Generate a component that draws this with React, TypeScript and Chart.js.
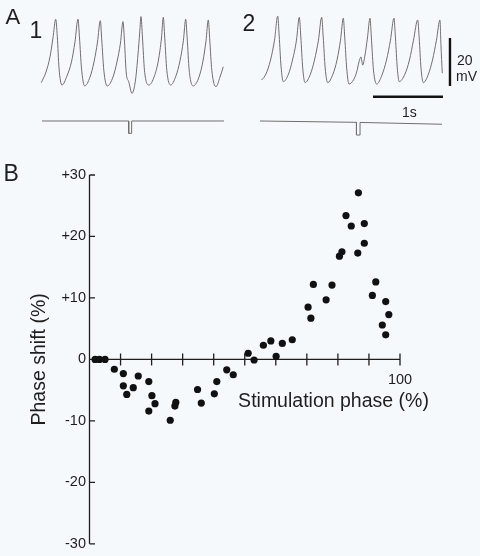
import React, { useEffect, useRef } from 'react';
import { Chart, registerables } from 'chart.js';

Chart.register(...registerables);

const FONT = '"Liberation Sans", Arial, Helvetica, sans-serif';
const INK = '#1e1e1e';
const TRACE = '#6e6e6e';
const BG = '#f6f9fb';

// ---------- Panel A : membrane potential recordings (time in ms, voltage in mV) ----------
const trace1T = [0, 67, 124, 167, 206, 229, 253, 296, 367, 431, 481, 524, 546, 574, 620, 696, 753, 803, 843, 864, 893, 943, 1024, 1081, 1131, 1167, 1189, 1214, 1249, 1296, 1346, 1381, 1407, 1424, 1446, 1474, 1539, 1617, 1674, 1717, 1743, 1764, 1793, 1849, 1924, 1981, 2031, 2063, 2084, 2113, 2171, 2253, 2310, 2353, 2386, 2407, 2436, 2496, 2553, 2600];
const trace1V = [-59.0, -54.6, -48.3, -40.4, -32.6, -39.9, -52.9, -60.0, -56.2, -50.4, -42.1, -32.6, -40.4, -52.9, -60.4, -56.7, -50.4, -42.1, -33.2, -41.2, -53.8, -60.4, -56.7, -50.4, -42.5, -33.6, -42.1, -55.0, -58.6, -63.5, -57.9, -47.5, -37.9, -31.5, -40.4, -53.8, -60.0, -56.2, -49.6, -40.4, -31.8, -40.4, -53.8, -60.0, -56.2, -50.0, -41.3, -32.6, -40.4, -53.8, -60.4, -56.7, -50.0, -41.7, -32.9, -41.3, -53.8, -60.7, -56.7, -52.4];
const stim1T = [10, 1249, 1249, 1291, 1291, 2610];
const stim1I = [0, 0, -1.03, -1.03, 0, 0];

const trace2T = [0, 61, 126, 183, 229, 250, 276, 309, 383, 440, 497, 537, 559, 586, 619, 697, 754, 811, 857, 879, 907, 943, 1019, 1076, 1126, 1166, 1187, 1214, 1247, 1311, 1357, 1390, 1419, 1443, 1476, 1511, 1547, 1569, 1597, 1643, 1719, 1783, 1840, 1890, 1911, 1937, 1966, 2047, 2111, 2169, 2229, 2250, 2276, 2309, 2383, 2440, 2497, 2547, 2561, 2580];
const trace2V = [-57.9, -55.4, -49.6, -41.3, -31.3, -39.6, -52.1, -58.6, -55.4, -49.6, -41.3, -31.8, -40.0, -52.9, -59.0, -55.4, -49.6, -41.3, -31.8, -40.0, -52.9, -59.0, -55.4, -49.6, -41.3, -32.2, -40.4, -52.9, -59.6, -57.9, -54.6, -50.4, -48.3, -51.7, -47.5, -40.4, -32.2, -41.3, -53.8, -59.6, -55.8, -49.6, -41.3, -32.2, -40.4, -52.9, -58.6, -55.4, -49.6, -41.3, -32.9, -40.4, -52.9, -59.0, -55.4, -49.6, -41.3, -32.9, -43.3, -55.1];
const stim2T = [-24, 1354, 1354, 1405, 1405, 2576];
const stim2I = [0, -0.11, -1.17, -1.17, -0.12, -0.27];

// scale bars (20 mV, 1 s)
const barVT = [2690, 2690];
const barVV = [-60.4, -40.4];
const barHT = [1590, 2590];
const barHV = [-64.9, -64.9];

// ---------- Panel B : phase response curve ----------
const phaseX = [1.8, 3.2, 5.0, 8.0, 10.9, 10.9, 12.0, 14.1, 15.7, 19.1, 19.1, 20.1, 21.1, 26.0, 27.5, 27.8, 34.8, 36.0, 40.2, 41.0, 44.2, 46.3, 51.1, 53.0, 56.0, 58.4, 60.1, 62.1, 65.3, 70.4, 71.3, 72.1, 76.2, 78.1, 80.5, 81.3, 82.6, 84.3, 86.4, 86.6, 88.5, 88.5, 91.1, 92.2, 94.3, 95.4, 95.4, 96.4];
const shiftY = [0, 0, 0, -1.6, -2.3, -4.3, -5.7, -4.6, -2.7, -3.6, -8.4, -5.9, -7.2, -9.9, -7.6, -7.0, -4.9, -7.1, -5.6, -3.6, -1.7, -2.5, 1.0, -0.1, 2.3, 3.0, 0.5, 2.6, 3.2, 8.5, 6.7, 12.2, 9.7, 12.1, 16.8, 17.5, 23.4, 21.7, 17.3, 27.1, 22.1, 18.9, 10.4, 12.6, 5.6, 9.4, 4.0, 7.3];
const xTickValues = [10, 20, 30, 40, 50, 60, 70, 80, 90, 100];
const xTickLabels: Record<number, string> = { 100: '100' };
const yTickValues = [-30, -20, -10, 0, 10, 20, 30];
const xTitle = 'Stimulation phase (%)';
const yTitle = 'Phase shift (%)';

const pts = (xs: number[], ys: number[]) => xs.map((x, i) => ({ x, y: ys[i] }));

const baseOpts = {
  responsive: false,
  animation: false as const,
  events: [] as any[],
  plugins: { legend: { display: false }, tooltip: { enabled: false } },
};

function traceConfig(tT: number[], tV: number[], sT: number[], sI: number[], xMin: number, xMax: number, withBars: boolean): any {
  const datasets: any[] = [
    { data: pts(tT, tV), borderColor: TRACE, borderWidth: 1, pointRadius: 0, cubicInterpolationMode: 'monotone', yAxisID: 'y' },
    { data: pts(sT, sI), borderColor: TRACE, borderWidth: 1, pointRadius: 0, tension: 0, yAxisID: 'yS' },
  ];
  if (withBars) {
    datasets.push({ data: pts(barVT, barVV), borderColor: '#111', borderWidth: 2.4, pointRadius: 0, tension: 0, yAxisID: 'y', borderCapStyle: 'butt' });
    datasets.push({ data: pts(barHT, barHV), borderColor: '#111', borderWidth: 2.4, pointRadius: 0, tension: 0, yAxisID: 'y', borderCapStyle: 'butt' });
  }
  return {
    type: 'line',
    data: { datasets },
    options: {
      ...baseOpts,
      layout: { padding: 0 },
      scales: {
        x: { type: 'linear', min: xMin, max: xMax, display: false },
        y: { type: 'linear', min: -87.08, max: -24.58, display: false },
        yS: { type: 'linear', min: -2.4167, max: 10.083, display: false },
      },
    },
  };
}

const axesPlugin = {
  id: 'prcAxes',
  beforeDatasetsDraw(chart: any) {
    const { ctx } = chart;
    const xs = chart.scales.x;
    const ys = chart.scales.y;
    const x0 = xs.getPixelForValue(0);
    const y0 = ys.getPixelForValue(0);
    ctx.save();
    ctx.strokeStyle = INK;
    ctx.lineWidth = 1.3;
    ctx.beginPath();
    ctx.moveTo(x0, ys.getPixelForValue(30));
    ctx.lineTo(x0, ys.getPixelForValue(-30));
    for (const v of yTickValues) {
      const py = ys.getPixelForValue(v);
      ctx.moveTo(x0, py);
      ctx.lineTo(x0 + 5.5, py);
    }
    ctx.moveTo(x0, y0);
    ctx.lineTo(xs.getPixelForValue(100), y0);
    for (const v of xTickValues) {
      const px = xs.getPixelForValue(v);
      ctx.moveTo(px, y0 - 6);
      ctx.lineTo(px, y0 + 6);
    }
    ctx.stroke();
    ctx.fillStyle = INK;
    ctx.textBaseline = 'alphabetic';
    ctx.textAlign = 'center';
    ctx.font = `14.5px ${FONT}`;
    for (const v of xTickValues) {
      const lab = xTickLabels[v];
      if (lab) ctx.fillText(lab, xs.getPixelForValue(v), y0 + 25);
    }
    ctx.font = `19.5px ${FONT}`;
    ctx.fillText(xTitle, xs.getPixelForValue(100) - 66.5, y0 + 48);
    ctx.restore();
  },
};

function prcConfig(): any {
  return {
    type: 'scatter',
    data: {
      datasets: [
        { data: pts(phaseX, shiftY), backgroundColor: '#111', borderColor: '#111', borderWidth: 0, pointRadius: 3.6, clip: false },
      ],
    },
    options: {
      ...baseOpts,
      layout: { padding: { left: 0, right: 80, top: 25, bottom: 10 } },
      scales: {
        x: { type: 'linear', min: 0, max: 100, display: false },
        y: {
          type: 'linear',
          min: -30,
          max: 30,
          ticks: {
            stepSize: 10,
            padding: 3.5,
            color: INK,
            font: { family: FONT, size: 14.5 },
            callback: (v: number) => (v > 0 ? '+' + v : String(v)),
          },
          grid: { display: false, drawTicks: false },
          border: { display: false },
          title: { display: true, text: yTitle, color: INK, font: { family: FONT, size: 19.5 }, padding: { top: 28.3, bottom: 0 } },
          afterFit: (s: any) => { s.width = 89.5; },
        },
      },
    },
    plugins: [axesPlugin],
  };
}

const label = (text: string, left: number, top: number, size: number): React.ReactElement => (
  <div key={text + left} style={{ position: 'absolute', left, top, fontSize: size, lineHeight: 1, fontFamily: FONT, color: INK, whiteSpace: 'nowrap' }}>{text}</div>
);

export default function App() {
  const a1 = useRef<HTMLCanvasElement>(null);
  const a2 = useRef<HTMLCanvasElement>(null);
  const b = useRef<HTMLCanvasElement>(null);

  useEffect(() => {
    const charts: Chart[] = [];
    if (a1.current) charts.push(new Chart(a1.current, traceConfig(trace1T, trace1V, stim1T, stim1I, -590, 2839, false)));
    if (a2.current) charts.push(new Chart(a2.current, traceConfig(trace2T, trace2V, stim2T, stim2I, -310, 3119, true)));
    if (b.current) charts.push(new Chart(b.current, prcConfig()));
    return () => charts.forEach((c) => c.destroy());
  }, []);

  return (
    <div style={{ position: 'absolute', left: 0, top: 0, width: 480, height: 556, background: BG, overflow: 'hidden' }}>
      <canvas ref={a1} width={240} height={150} style={{ position: 'absolute', left: 0, top: 0 }} />
      <canvas ref={a2} width={240} height={150} style={{ position: 'absolute', left: 240, top: 0 }} />
      <canvas ref={b} width={480} height={406} style={{ position: 'absolute', left: 0, top: 150 }} />
      {label('A', 5.5, 5.5, 22)}
      {label('1', 29.5, 18.8, 23)}
      {label('2', 242.5, 12, 23)}
      {label('B', 3.5, 162, 23)}
      {label('20', 457, 53.2, 14)}
      {label('mV', 456, 68.9, 14)}
      {label('1s', 402, 105, 14)}
    </div>
  );
}
